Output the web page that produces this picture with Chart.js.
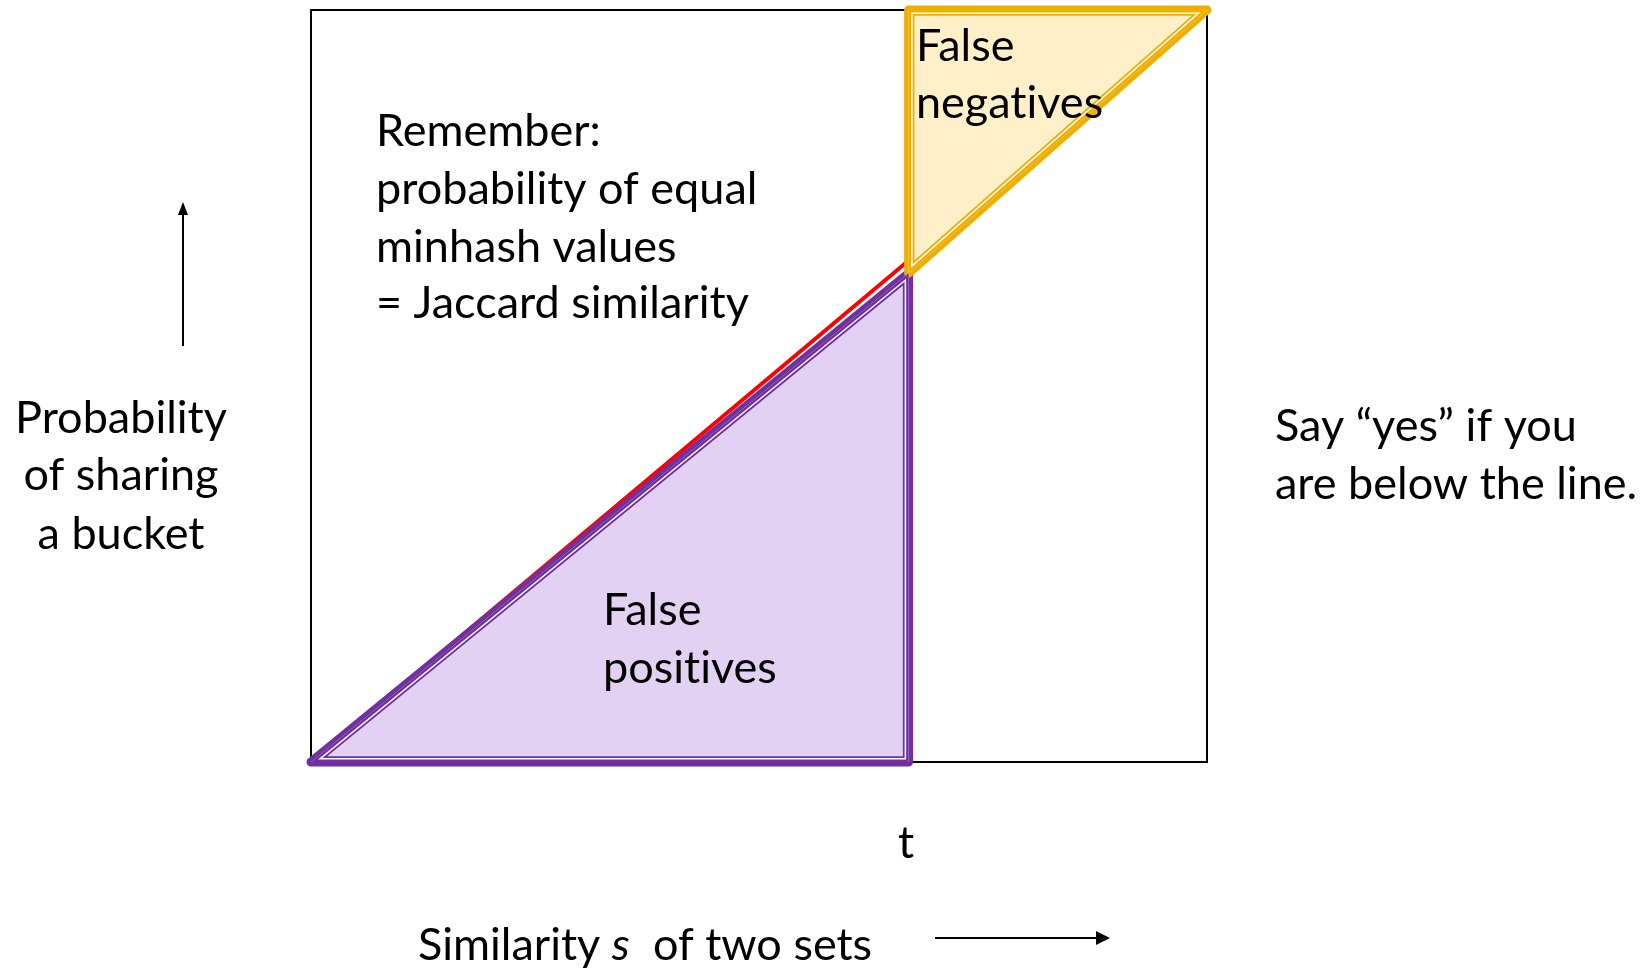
<!DOCTYPE html>
<html>
<head>
<meta charset="utf-8">
<script src="https://cdn.jsdelivr.net/npm/chart.js@4.4.1/dist/chart.umd.min.js"></script>
<style>
  html, body { margin: 0; padding: 0; background: #fff; }
  #wrap { width: 1652px; height: 971px; }
</style>
</head>
<body>
<div id="wrap"><canvas id="lshChart"></canvas></div>
<script>
// threshold t and the triangles around the line s = p
const threshold = 0.667;
const boxX = [0, 1, 1, 0, 0];
const boxY = [0, 0, 1, 1, 0];
const diagonalX = [0, threshold];
const diagonalY = [0, threshold];
const falsePosX = [0, threshold, threshold, 0];
const falsePosY = [0, 0, 0.65, 0];
const falseNegX = [threshold, 1, threshold, threshold];
const falseNegY = [1, 1, 0.65, 1];

const FONT = 'Lato, "Open Sans", sans-serif';
const SIZE = 45;

function pts(xs, ys) {
  return xs.map((x, i) => ({ x: x, y: ys[i] }));
}

// inner thin line (double-stroke look) clipped inside each triangle
const insetLines = {
  id: 'insetLines',
  afterDatasetsDraw(chart) {
    const ctx = chart.ctx;
    chart.data.datasets.forEach((ds, i) => {
      if (!ds.inset) return;
      const p = chart.getDatasetMeta(i).data;
      ctx.save();
      ctx.beginPath();
      p.forEach((pt, k) => k ? ctx.lineTo(pt.x, pt.y) : ctx.moveTo(pt.x, pt.y));
      ctx.closePath();
      ctx.clip();
      ctx.lineJoin = 'round';
      [[ds.borderColor, 11.6], ['#ffffff', 8], [ds.borderColor, 5]].forEach(([c, w]) => {
        ctx.strokeStyle = c;
        ctx.lineWidth = w;
        ctx.stroke();
      });
      ctx.restore();
    });
  }
};

const labels = {
  id: 'labels',
  afterDraw(chart) {
    const ctx = chart.ctx;
    const f = SIZE + 'px ' + FONT;
    ctx.save();
    ctx.fillStyle = '#000';
    ctx.textBaseline = 'middle';
    ctx.font = f;

    ctx.textAlign = 'left';
    [['Remember:', 131], ['probability of equal', 189], ['minhash values', 247], ['= Jaccard similarity', 303]]
      .forEach(([s, y]) => ctx.fillText(s, 376, y));
    ctx.fillText('False', 916, 46);
    ctx.fillText('negat\u200Cives', 916, 103);
    ctx.fillText('False', 603, 610);
    ctx.fillText('posit\u200Cives', 603, 668);
    ctx.fillText('Say \u201cyes\u201d if you', 1275, 426);
    ctx.fillText('are below the line.', 1275, 484);

    ctx.textAlign = 'center';
    ctx.fillText('Probability', 121, 418);
    ctx.fillText('of sharing', 121, 475);
    ctx.fillText('a bucket', 121, 534);
    ctx.fillText('t', 906, 843);

    // x axis caption with italic s
    ctx.textAlign = 'left';
    let x = 418;
    const y = 945;
    ctx.fillText('Similarity ', x, y);
    x += ctx.measureText('Similarity ').width;
    ctx.font = 'italic ' + f;
    ctx.fillText('s', x, y);
    x += ctx.measureText('s').width;
    ctx.font = f;
    ctx.fillText('  of two sets', x, y);

    // arrows
    ctx.strokeStyle = '#000';
    ctx.lineWidth = 2;
    ctx.beginPath();
    ctx.moveTo(183, 346);
    ctx.lineTo(183, 212);
    ctx.moveTo(935, 938);
    ctx.lineTo(1098, 938);
    ctx.stroke();
    ctx.beginPath();
    ctx.moveTo(183, 202); ctx.lineTo(178, 215); ctx.lineTo(188, 215); ctx.closePath();
    ctx.moveTo(1110, 938); ctx.lineTo(1096, 931); ctx.lineTo(1096, 945); ctx.closePath();
    ctx.fill();
    ctx.restore();
  }
};

new Chart(document.getElementById('lshChart'), {
  type: 'scatter',
  data: {
    datasets: [
      {
        label: 'box',
        data: pts(boxX, boxY),
        showLine: true,
        borderColor: '#000',
        borderWidth: 2,
        pointRadius: 0,
        clip: false,
        order: 5
      },
      {
        label: 'diagonal',
        data: pts(diagonalX, diagonalY),
        showLine: true,
        borderColor: '#ff0000',
        borderWidth: 4,
        pointRadius: 0,
        clip: false,
        order: 4
      },
      {
        label: 'False positives',
        data: pts(falsePosX, falsePosY),
        showLine: true,
        fill: 'shape',
        backgroundColor: '#e2d1f2',
        borderColor: '#7030a0',
        borderWidth: 9,
        borderJoinStyle: 'round',
        borderCapStyle: 'round',
        pointRadius: 0,
        clip: false,
        inset: true,
        order: 3
      },
      {
        label: 'False negatives',
        data: pts(falseNegX, falseNegY),
        showLine: true,
        fill: 'shape',
        backgroundColor: '#fff0c9',
        borderColor: '#f0ae00',
        borderWidth: 9,
        borderJoinStyle: 'round',
        borderCapStyle: 'round',
        pointRadius: 0,
        clip: false,
        inset: true,
        order: 2
      }
    ]
  },
  options: {
    responsive: true,
    maintainAspectRatio: false,
    animation: false,
    layout: { padding: { left: 311, top: 10, right: 445, bottom: 209 } },
    scales: {
      x: { type: 'linear', min: 0, max: 1, display: false },
      y: { type: 'linear', min: 0, max: 1, display: false }
    },
    plugins: {
      legend: { display: false },
      tooltip: { enabled: false }
    }
  },
  plugins: [insetLines, labels]
});
</script>
</body>
</html>
